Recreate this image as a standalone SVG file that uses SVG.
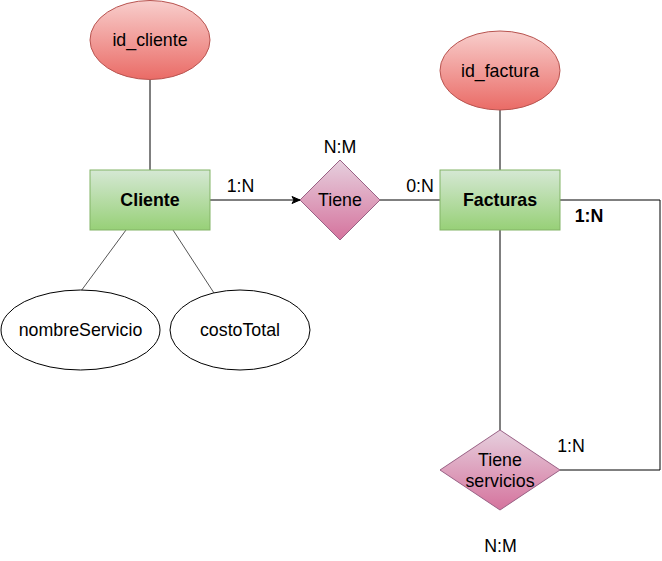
<svg xmlns="http://www.w3.org/2000/svg" width="662" height="561" viewBox="0 0 662 561">
<defs>
<linearGradient id="gRed" x1="0" y1="0" x2="0" y2="1"><stop offset="0" stop-color="#f8cecc"/><stop offset="1" stop-color="#ea6b66"/></linearGradient>
<linearGradient id="gGreen" x1="0" y1="0" x2="0" y2="1"><stop offset="0" stop-color="#d5e8d4"/><stop offset="1" stop-color="#97d077"/></linearGradient>
<linearGradient id="gPink" x1="0" y1="0" x2="0" y2="1"><stop offset="0" stop-color="#e6d0de"/><stop offset="1" stop-color="#d5739d"/></linearGradient>
<marker id="arr" markerWidth="10" markerHeight="10" refX="9" refY="5" orient="auto" markerUnits="userSpaceOnUse"><path d="M1,1.5 L9,5 L1,8.5 L3,5 Z" fill="#000" stroke="#000" stroke-width="1"/></marker>
</defs>
<style>
text{font-family:"Liberation Sans",Arial,sans-serif;font-size:17.8px;fill:#000;text-anchor:middle}
.b{font-weight:bold}
.attr{fill:url(#gRed);stroke:#b85450;stroke-width:1}
.ent{fill:url(#gGreen);stroke:#82b366;stroke-width:1}
.rel{fill:url(#gPink);stroke:#996185;stroke-width:1}
.plain{fill:#fff;stroke:#000;stroke-width:1}
.c{fill:none;stroke:#000;stroke-width:1}
.g{fill:none;stroke:#555;stroke-width:1}
</style>
<g id="connectors">
<path class="c" d="M150,80 V170"/>
<path class="c" d="M500,110 V170"/>
<path class="c" d="M210,200 H300" marker-end="url(#arr)"/>
<path class="c" d="M380,200 H440"/>
<path class="c" d="M500,230 V430"/>
<path class="c" d="M560,200 H660 V470 H560"/>
<path class="g" d="M126,230 L81,291"/>
<path class="g" d="M173,230 L214,293"/>
<text x="240.5" y="192">1:N</text>
<text x="340" y="153">N:M</text>
<text x="420" y="192">0:N</text>
<text class="b" x="589" y="222">1:N</text>
<text x="571" y="452">1:N</text>
<text x="500.5" y="552">N:M</text>
</g>
<g id="id_cliente"><ellipse class="attr" cx="150" cy="40" rx="60" ry="39.5"/><text x="150" y="46">id_cliente</text></g>
<g id="id_factura"><ellipse class="attr" cx="500" cy="70.5" rx="60" ry="39.5"/><text x="500" y="76.5">id_factura</text></g>
<g id="Cliente"><rect class="ent" x="90" y="170" width="120" height="60"/><text class="b" x="150" y="206">Cliente</text></g>
<g id="Facturas"><rect class="ent" x="440" y="170" width="120" height="60"/><text class="b" x="500" y="206">Facturas</text></g>
<g id="Tiene"><polygon class="rel" points="340,160 380,200 340,240 300,200"/><text x="340" y="206">Tiene</text></g>
<g id="TieneServicios"><polygon class="rel" points="500,430 560,470 500,510 440,470"/><text x="500" y="466">Tiene</text><text x="500" y="487">servicios</text></g>
<g id="nombreServicio"><ellipse class="plain" cx="80.5" cy="330" rx="79.5" ry="40"/><text x="80.5" y="336">nombreServicio</text></g>
<g id="costoTotal"><ellipse class="plain" cx="240" cy="330" rx="70" ry="40"/><text x="240" y="336">costoTotal</text></g>
</svg>
